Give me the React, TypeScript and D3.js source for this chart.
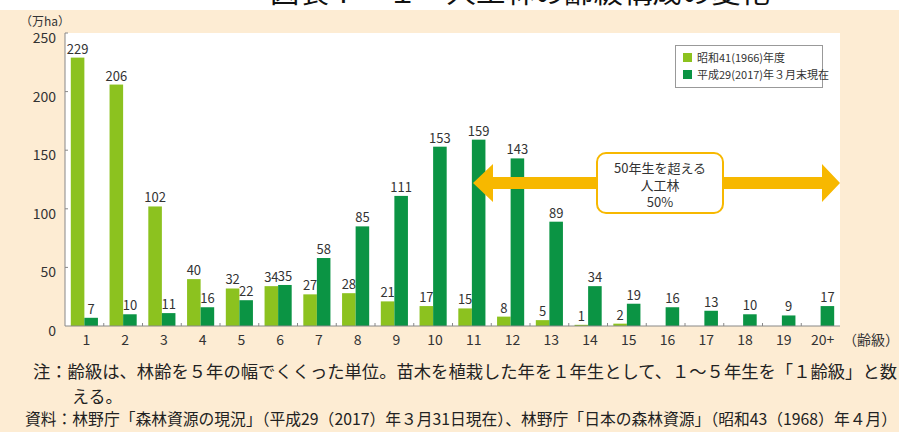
import React from "react";
import * as d3 from "d3";

const categories = ["1","2","3","4","5","6","7","8","9","10","11","12","13","14","15","16","17","18","19","20+"];
const series1966 = [229,206,102,40,32,34,27,28,21,17,15,8,5,1,2,null,null,null,null,null];
const series2017 = [7,10,11,16,22,35,58,85,111,153,159,143,89,34,19,16,13,10,9,17];
const yTicks = [0,50,100,150,200,250];
const legendLabels = ["昭和41(1966)年度","平成29(2017)年３月末現在"];
const colors = ["#8cc21f","#0b9444"];

const W = 899, H = 432;
const L = 65, R = 840, T = 33, B = 326;
const FONT = "'Noto Sans CJK JP', 'Noto Sans', sans-serif";

export default function App() {
  const x = d3.scaleBand<string>().domain(categories).range([L, R]).paddingInner(0.3).paddingOuter(0.15);
  const x1 = d3.scaleBand<string>().domain(["a","b"]).range([0, x.bandwidth()]).padding(0);
  const y = d3.scaleLinear().domain([0, 250]).range([B, T]);
  const step = x.step();
  const bw = x1.bandwidth();

  const arrowY = 183;
  const lx = 473, rx = 840;
  const sh = 6, hh = 19;
  const arrowPath = `M${lx},${arrowY} L${lx+20},${arrowY-hh} L${lx+20},${arrowY-sh} L${rx-18},${arrowY-sh} L${rx-18},${arrowY-hh} L${rx},${arrowY} L${rx-18},${arrowY+hh} L${rx-18},${arrowY+sh} L${lx+20},${arrowY+sh} L${lx+20},${arrowY+hh} Z`;

  return (
    <div style={{ position: "fixed", left: 0, top: 0 }}>
      <svg width={W} height={H} style={{ display: "block" }} fontFamily={FONT}>
        <rect x={0} y={0} width={W} height={H} fill="#ffffff" />
        <text x={270} y={3} fontSize={26} fill="#111" textLength={500} lengthAdjust="spacingAndGlyphs">図表Ⅰ－１　人工林の齢級構成の変化</text>
        <rect x={0} y={10} width={W} height={H - 10} fill="#fdecd3" />
        <rect x={L} y={T} width={R - L} height={B - T} fill="#ffffff" />

        {/* bars */}
        {categories.map((c, i) => {
          const gx = x(c)!;
          const v1 = series1966[i];
          const v2 = series2017[i];
          return (
            <g key={c}>
              {v1 != null && (
                <g>
                  <rect x={gx + x1("a")!} y={y(v1)} width={bw} height={B - y(v1)} fill={colors[0]} />
                  <text x={gx + x1("a")! + bw / 2} y={y(v1) - 4} fontSize={13} textAnchor="middle" fill="#333">{v1}</text>
                </g>
              )}
              <rect x={gx + x1("b")!} y={y(v2)} width={bw} height={B - y(v2)} fill={colors[1]} />
              <text x={gx + x1("b")! + bw / 2} y={y(v2) - 4} fontSize={13} textAnchor="middle" fill="#333">{v2}</text>
            </g>
          );
        })}

        {/* axes */}
        <line x1={L} y1={T} x2={L} y2={B} stroke="#888" strokeWidth={1} />
        <line x1={L} y1={B} x2={R} y2={B} stroke="#888" strokeWidth={1} />
        {yTicks.map((t) => (
          <g key={t}>
            {t > 0 && <line x1={L} x2={L + 3} y1={y(t)} y2={y(t)} stroke="#888" />}
            <text x={56} y={y(t) + 10} fontSize={14} textAnchor="end" fill="#333">{t}</text>
          </g>
        ))}
        {categories.slice(1).map((c) => (
          <line key={c} x1={x(c)! - step * 0.15} x2={x(c)! - step * 0.15} y1={B} y2={B - 3} stroke="#888" />
        ))}
        {categories.map((c) => (
          <text key={c} x={x(c)! + x.bandwidth() / 2 + 2} y={345} fontSize={14} textAnchor="middle" fill="#333">{c}</text>
        ))}
        <text x={871} y={345} fontSize={14} textAnchor="middle" fill="#333">（齢級）</text>
        <text x={45} y={26} fontSize={12} textAnchor="middle" fill="#333">（万ha）</text>

        {/* legend */}
        <rect x={675.5} y={45.5} width={147} height={42} fill="#fff" stroke="#999" />
        <rect x={683} y={53} width={9} height={9} fill={colors[0]} />
        <text x={697} y={62} fontSize={11} fill="#333">{legendLabels[0]}</text>
        <rect x={683} y={70} width={9} height={9} fill={colors[1]} />
        <text x={697} y={79} fontSize={11} fill="#333">{legendLabels[1]}</text>

        {/* arrow + box */}
        <path d={arrowPath} fill="#f7b800" />
        <rect x={597} y={153} width={126} height={60} rx={9} fill="#fff" stroke="#f7b800" strokeWidth={2} />
        <text x={660} y={173} fontSize={13} textAnchor="middle" fill="#333">50年生を超える</text>
        <text x={660} y={190} fontSize={13} textAnchor="middle" fill="#333">人工林</text>
        <text x={660} y={207} fontSize={13} textAnchor="middle" fill="#333">50%</text>

        {/* notes */}
        <text x={33} y={378} fontSize={17} fill="#222" textLength={864} lengthAdjust="spacingAndGlyphs">注：齢級は、林齢を５年の幅でくくった単位。苗木を植栽した年を１年生として、１～５年生を「１齢級」と数</text>
        <text x={72} y={403} fontSize={17} fill="#222">える。</text>
        <text x={25} y={425} fontSize={16} fill="#222" textLength={872} lengthAdjust="spacingAndGlyphs">資料：林野庁「森林資源の現況」（平成29（2017）年３月31日現在）、林野庁「日本の森林資源」（昭和43（1968）年４月）</text>
      </svg>
    </div>
  );
}
